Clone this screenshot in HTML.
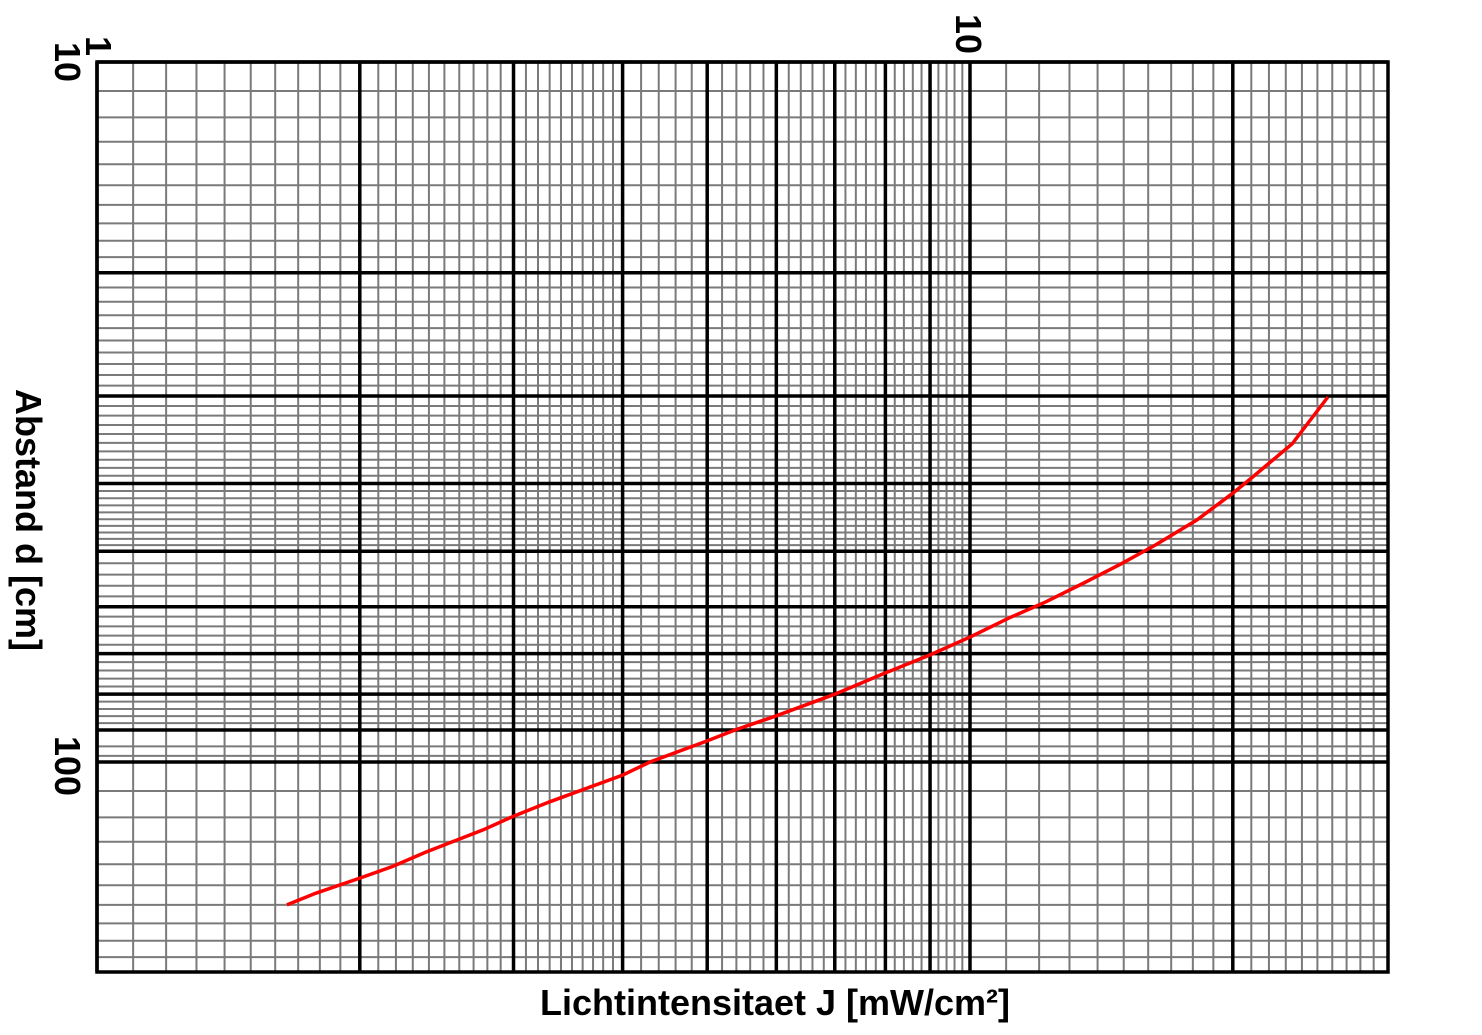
<!DOCTYPE html>
<html><head><meta charset="utf-8">
<style>
html,body{margin:0;padding:0;background:#fff;}
svg{display:block;}
text{font-family:"Liberation Sans",sans-serif;font-weight:bold;fill:#000;}
</style></head>
<body>
<svg id="chart" width="1482" height="1035" viewBox="0 0 1482 1035" xmlns="http://www.w3.org/2000/svg">
<g id="grid"></g>
<g id="majors"></g>
<rect x="97" y="62" width="1291" height="910" fill="none" stroke="#000" stroke-width="3.5"/>
<polyline id="curve" fill="none" stroke="#ff0000" stroke-width="3.5"/>
<text transform="translate(86,46) rotate(90)" font-size="36" text-anchor="middle">1</text>
<text transform="translate(956,34) rotate(90)" font-size="36" text-anchor="middle">10</text>
<text transform="translate(55,62) rotate(90)" font-size="36" text-anchor="middle">10</text>
<text transform="translate(55,766) rotate(90)" font-size="36" text-anchor="middle">100</text>
<text transform="translate(16,520) rotate(90)" font-size="36" text-anchor="middle">Abstand d [cm]</text>
<text x="775" y="1015" font-size="36" text-anchor="middle">Lichtintensitaet J [mW/cm²]</text>
</svg>
<script>
const xVals = [1.65,1.78,2.0,2.18,2.38,2.77,3.0,3.3,4.0,4.3,5.0,5.38,6.0,7.0,8.0,9.0,10,11.1,12.2,13.5,14.9,16.3,18.2,20,21.0,23.4,25.7];
const yVals = [160,154,146.5,141,134.5,125,119.5,114,104.4,100,93.3,90,85.9,80,74.6,70.3,66.3,62.2,59.1,55.5,52.1,49,45.1,41.3,39.3,35.1,30.1];
const xMajorTicks = [1,2,3,4,5,6,7,8,9,10,20,30];
const yMajorTicks = [10,20,30,40,50,60,70,80,90,100,200];

const X0=97, X1=1388, Y0=62, Y1=972, DX=873, DY=700;
function sx(v){return X0+Math.log10(v)*DX;}
function sy(v){return Y0+(Math.log10(v)-1)*DY;}
const NS="http://www.w3.org/2000/svg";
function line(g,x1,y1,x2,y2,c,w){
  const l=document.createElementNS(NS,'line');
  l.setAttribute('x1',x1);l.setAttribute('y1',y1);l.setAttribute('x2',x2);l.setAttribute('y2',y2);
  l.setAttribute('stroke',c);l.setAttribute('stroke-width',w);
  g.appendChild(l);return l;
}
const grid=document.getElementById('grid'), majors=document.getElementById('majors');
const xm=[];
for(let i=11;i<40;i++){if(i%10)xm.push(i/10);}
for(let i=42;i<100;i+=2){if(i%10)xm.push(i/10);}
for(let v=11;v<31;v++){if(v%10)xm.push(v);}
xm.forEach(v=>{const x=sx(v);if(x<X1-2){const l=line(grid,x,Y0,x,Y1,'#7a7a7a',2);

}});
const ym=[];
for(let v=11;v<50;v++){if(v%10)ym.push(v);}
for(let v=52;v<90;v+=2){if(v%10)ym.push(v);}
ym.push(95,98);
for(let v=110;v<200;v+=10)ym.push(v);
ym.forEach(v=>{const y=sy(v);const l=line(grid,X0,y,X1,y,'#7a7a7a',2);

});
xMajorTicks.forEach(v=>{const x=sx(v);if(x<X1-3){const l=line(majors,x,Y0,x,Y1,'#000',3.5);

}});
yMajorTicks.forEach(v=>{const y=sy(v);if(y<Y1-3){const l=line(majors,X0,y,X1,y,'#000',3.5);

}});
document.getElementById('curve').setAttribute('points',xVals.map((v,i)=>sx(v).toFixed(1)+','+sy(yVals[i]).toFixed(1)).join(' '));
</script>
</body></html>
